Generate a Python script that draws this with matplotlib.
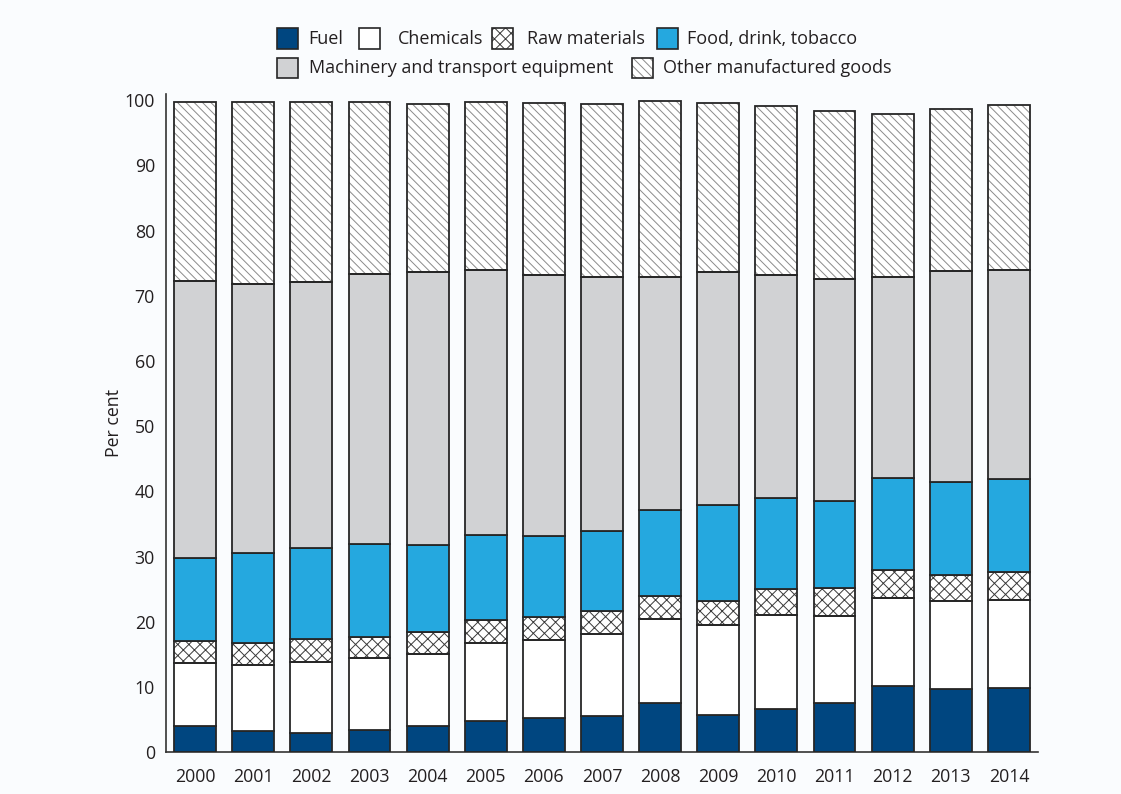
import numpy as np
import matplotlib
matplotlib.use("Agg")
import matplotlib.pyplot as plt
from matplotlib.patches import Rectangle

years = ["2000", "2001", "2002", "2003", "2004", "2005", "2006", "2007",
         "2008", "2009", "2010", "2011", "2012", "2013", "2014"]
fuel = [4.0, 3.3, 3.0, 3.4, 4.1, 4.8, 5.2, 5.6, 7.5, 5.7, 6.7, 7.6, 10.1, 9.7, 9.9]
chemicals = [9.7, 10.1, 10.8, 11.1, 11.0, 12.0, 12.0, 12.5, 12.9, 13.9, 14.4, 13.3, 13.6, 13.5, 13.5]
raw_materials = [3.3, 3.3, 3.6, 3.2, 3.4, 3.5, 3.5, 3.5, 3.6, 3.6, 4.0, 4.3, 4.3, 4.0, 4.2]
food = [12.8, 13.8, 14.0, 14.2, 13.3, 13.0, 12.5, 12.4, 13.1, 14.7, 13.9, 13.4, 14.0, 14.3, 14.3]
machinery = [42.5, 41.3, 40.7, 41.5, 41.8, 40.6, 40.0, 38.9, 35.8, 35.7, 34.2, 34.0, 30.9, 32.3, 32.1]
other = [27.5, 28.0, 27.7, 26.4, 25.9, 25.8, 26.4, 26.6, 27.0, 26.0, 25.9, 25.8, 25.0, 24.8, 25.3]

labels = ["Fuel", "Chemicals", "Raw materials", "Food, drink, tobacco",
          "Machinery and transport equipment", "Other manufactured goods"]
series = [fuel, chemicals, raw_materials, food, machinery, other]
faces = ["#004680", "#ffffff", "#ffffff", "#25a8df", "#d1d2d4", "#ffffff"]
hatches = [None, None, "xxx", None, None, "\\\\\\\\"]
hatch_cols = [None, None, "#3a3a3a", None, None, "#8a8a8a"]

EDGE = "#262626"
TXT = "#231f20"
BG = "#fafcfe"

plt.rcParams["font.family"] = ["Open Sans", "DejaVu Sans"]
plt.rcParams["hatch.linewidth"] = 0.7

W, H = 1121, 794
fig = plt.figure(figsize=(W / 100, H / 100), dpi=100, facecolor=BG)
ax = fig.add_axes([166 / W, 1 - 752.3 / H, (1038 - 166) / W, (752.3 - 94.4) / H])
ax.set_facecolor(BG)

x = np.arange(len(years))
bw = 0.72
bottom = np.zeros(len(years))
for vals, fc, hat, hc in zip(series, faces, hatches, hatch_cols):
    vals = np.array(vals)
    if hat:
        ax.bar(x, vals, bw, bottom=bottom, color=fc, hatch=hat, edgecolor=hc, linewidth=0, zorder=2)
        ax.bar(x, vals, bw, bottom=bottom, fill=False, edgecolor=EDGE, linewidth=1.3, zorder=3)
    else:
        ax.bar(x, vals, bw, bottom=bottom, color=fc, edgecolor=EDGE, linewidth=1.3, zorder=3)
    bottom += vals

ax.set_xlim(-0.5, len(years) - 0.5)
ax.set_ylim(0, 100.9)
ax.set_yticks(np.arange(0, 101, 10))
ax.set_xticks(x)
ax.set_xticklabels(years)
ax.tick_params(axis="both", length=0, labelsize=12.8, colors=TXT)
ax.tick_params(axis="y", pad=8)
ax.tick_params(axis="x", pad=11)
for s in ["top", "right"]:
    ax.spines[s].set_visible(False)
for s in ["left", "bottom"]:
    ax.spines[s].set_color("#333333")
    ax.spines[s].set_linewidth(1.2)
ax.set_ylabel("Per cent", fontsize=12.8, color=TXT, labelpad=1)

# manual legend (layout in pixels)
leg_layout = [  # patch_left, text_left, row_center_y
    (277, 308, 38.5), (359, 398, 38.5), (492, 527, 38.5), (657, 687, 38.5),
    (277, 309, 68.0), (632, 663, 68.0),
]
for (px, tx, cy), lab, fc, hat, hc in zip(leg_layout, labels, faces, hatches, hatch_cols):
    pw, ph = 21, 20
    xy = (px / W, 1 - (cy + ph / 2) / H)
    if hat:
        fig.add_artist(Rectangle(xy, pw / W, ph / H, transform=fig.transFigure,
                                 facecolor=fc, hatch=hat, edgecolor=hc, linewidth=0))
        fig.add_artist(Rectangle(xy, pw / W, ph / H, transform=fig.transFigure,
                                 fill=False, edgecolor=EDGE, linewidth=1.2))
    else:
        fig.add_artist(Rectangle(xy, pw / W, ph / H, transform=fig.transFigure,
                                 facecolor=fc, edgecolor=EDGE, linewidth=1.2))
    fig.text(tx / W, 1 - cy / H, lab, ha="left", va="center", fontsize=13, color=TXT)

fig.savefig("out.png", dpi=100, facecolor=BG)
